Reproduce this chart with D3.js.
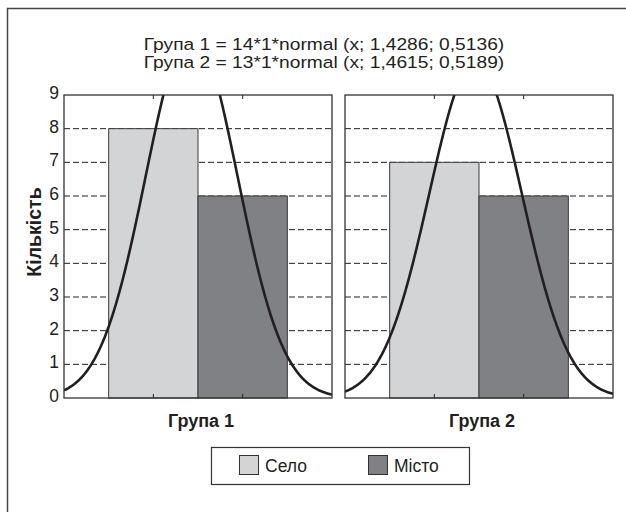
<!DOCTYPE html>
<html>
<head>
<meta charset="utf-8">
<script src="https://cdn.jsdelivr.net/npm/d3@7/dist/d3.min.js"></script>
<style>
  body { margin: 0; background: #fff; }
  text { font-family: "Liberation Sans", Arial, sans-serif; fill: #231f20; }
</style>
</head>
<body>
<svg id="chart" width="626" height="512"></svg>
<script>
// data
var groups = ['Група 1', 'Група 2'];
var categories = ['Село', 'Місто'];
var counts = [[8, 6], [7, 6]];
var fitN = [14, 13];
var fitMean = [1.4286, 1.4615];
var fitSd = [0.5136, 0.5189];
var titleLines = [
    'Група 1 = 14*1*normal (x; 1,4286; 0,5136)',
    'Група 2 = 13*1*normal (x; 1,4615; 0,5189)'
];
var yTicks = [0, 1, 2, 3, 4, 5, 6, 7, 8, 9];

var colors = d3.scaleOrdinal().domain(categories).range(['#d3d4d6', '#808184']);
var ink = '#231f20';

var svg = d3.select('#chart');

// outer frame (only top/left fall inside the picture)
svg.append('rect')
    .attr('x', 7.5).attr('y', 8.5)
    .attr('width', 700).attr('height', 600)
    .attr('fill', 'none').attr('stroke', '#444').attr('stroke-width', 1.5);

var plotTop = 95, plotBottom = 398;
var panels = [{ left: 64, right: 332 }, { left: 345, right: 613 }];

var y = d3.scaleLinear().domain([0, 9]).range([plotBottom, plotTop]);

function normalPdf(x, m, s) {
    return Math.exp(-0.5 * Math.pow((x - m) / s, 2)) / (s * Math.sqrt(2 * Math.PI));
}

panels.forEach(function(p, gi) {
    var x = d3.scaleLinear().domain([0, 3]).range([p.left, p.right]);
    var g = svg.append('g');

    var clipId = 'clip' + gi;
    svg.append('clipPath').attr('id', clipId)
        .append('rect')
        .attr('x', p.left).attr('y', plotTop)
        .attr('width', p.right - p.left).attr('height', plotBottom - plotTop);

    // dashed grid
    g.selectAll('line.grid')
        .data(yTicks.filter(function(t) { return t > 0 && t < 9; }))
        .enter().append('line')
            .attr('class', 'grid')
            .attr('x1', p.left).attr('x2', p.right)
            .attr('y1', y).attr('y2', y)
            .attr('stroke', ink).attr('stroke-width', 1)
            .attr('stroke-dasharray', '6,3');

    // bars
    g.selectAll('rect.bar')
        .data(counts[gi])
        .enter().append('rect')
            .attr('class', 'bar')
            .attr('x', function(d, i) { return x(i + 0.5); })
            .attr('width', function(d, i) { return x(i + 1.5) - x(i + 0.5); })
            .attr('y', y)
            .attr('height', function(d) { return plotBottom - y(d); })
            .attr('fill', function(d, i) { return colors(categories[i]); })
            .attr('stroke', '#3a3a3c').attr('stroke-width', 1);

    // x ticks, inward top and bottom
    [1, 2].forEach(function(v) {
        g.append('line').attr('x1', x(v)).attr('x2', x(v))
            .attr('y1', plotBottom).attr('y2', plotBottom - 4)
            .attr('stroke', ink);
        g.append('line').attr('x1', x(v)).attr('x2', x(v))
            .attr('y1', plotTop).attr('y2', plotTop + 4)
            .attr('stroke', ink);
    });

    // normal fit
    var pts = d3.range(0, 3.0001, 0.01).map(function(v) {
        return [v, fitN[gi] * normalPdf(v, fitMean[gi], fitSd[gi])];
    });
    g.append('path')
        .datum(pts)
        .attr('clip-path', 'url(#' + clipId + ')')
        .attr('fill', 'none')
        .attr('stroke', ink)
        .attr('stroke-width', 2.6)
        .attr('d', d3.line()
            .x(function(d) { return x(d[0]); })
            .y(function(d) { return y(Math.min(d[1], 9.5)); }));

    // frame
    g.append('rect')
        .attr('x', p.left).attr('y', plotTop)
        .attr('width', p.right - p.left).attr('height', plotBottom - plotTop)
        .attr('fill', 'none').attr('stroke', '#333').attr('stroke-width', 1.3);

    g.append('text')
        .attr('x', (p.left + p.right) / 2 + 3).attr('y', 427)
        .attr('text-anchor', 'middle')
        .style('font-size', '18px').style('font-weight', 'bold')
        .text(groups[gi]);
});

// y tick labels
svg.selectAll('text.ytick')
    .data(yTicks)
    .enter().append('text')
        .attr('class', 'ytick')
        .attr('x', 59)
        .attr('y', function(d) { return y(d) - 2; })
        .attr('dy', '0.35em')
        .attr('text-anchor', 'end')
        .style('font-size', '17.5px')
        .text(function(d) { return d; });

// y title
svg.append('text')
    .attr('transform', 'translate(41,232) rotate(-90)')
    .attr('text-anchor', 'middle')
    .style('font-size', '19.5px').style('font-weight', 'bold')
    .text('Кількість');

// title
svg.selectAll('text.title')
    .data(titleLines)
    .enter().append('text')
        .attr('class', 'title')
        .attr('transform', function(d, i) {
            return 'translate(324,' + (50 + i * 18) + ') scale(1.13,1)';
        })
        .attr('text-anchor', 'middle')
        .style('font-size', '17px')
        .text(function(d) { return d; });

// legend
var legend = svg.append('g');
legend.append('rect')
    .attr('x', 211.5).attr('y', 447.5)
    .attr('width', 258).attr('height', 37)
    .attr('fill', '#fff').attr('stroke', '#333').attr('stroke-width', 1.2);
var legendX = [239, 368];
categories.forEach(function(c, i) {
    legend.append('rect')
        .attr('x', legendX[i] + 0.5).attr('y', 455.5)
        .attr('width', 19).attr('height', 19)
        .attr('fill', colors(c)).attr('stroke', '#333');
    legend.append('text')
        .attr('x', legendX[i] + 26).attr('y', 471.5)
        .style('font-size', '17.5px')
        .text(c);
});
</script>
</body>
</html>
